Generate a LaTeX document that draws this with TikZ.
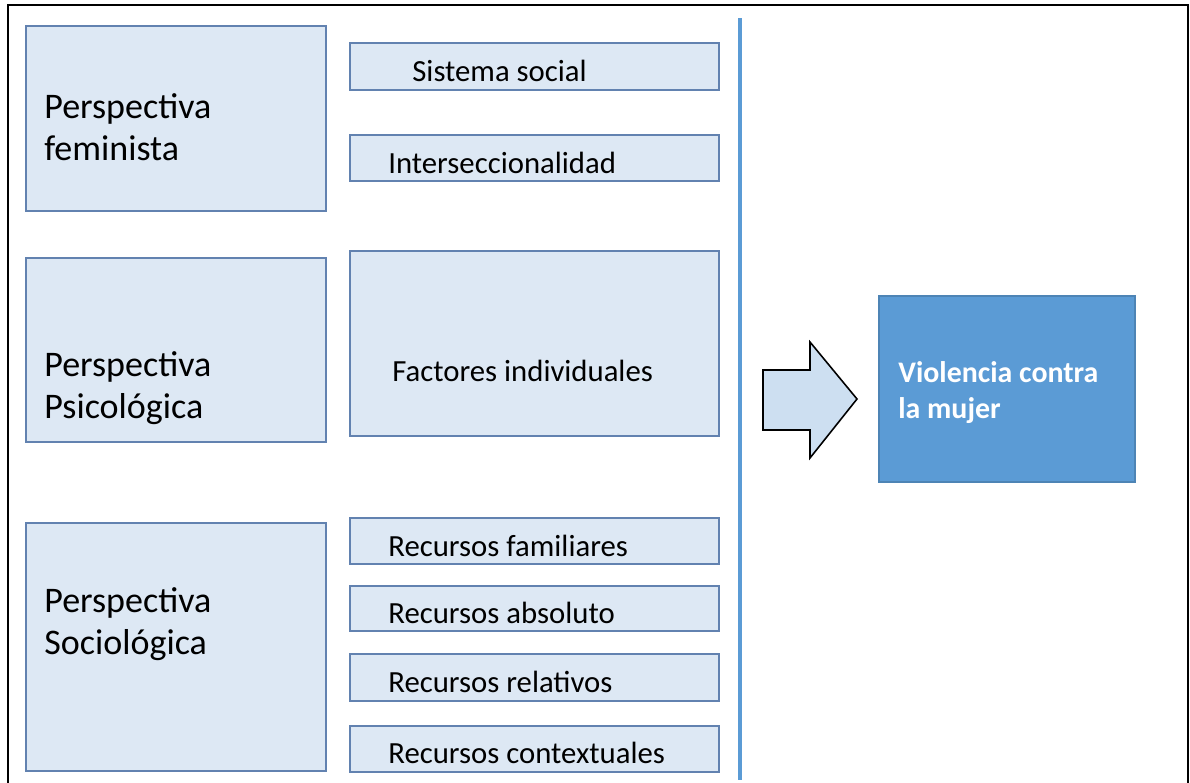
\documentclass[tikz,border=0pt]{standalone}
\usepackage{fontspec}
\setmainfont{Carlito}
\definecolor{boxfill}{RGB}{221,232,244}
\definecolor{boxline}{RGB}{98,130,176}
\definecolor{vioblue}{RGB}{91,155,213}
\definecolor{arrowfill}{RGB}{205,223,241}
\begin{document}
\begin{tikzpicture}[
    x=0.02cm, y=-0.02cm,
    box/.style 2 args={draw=boxline, fill=boxfill, line width=1pt, anchor=north west,
        inner sep=0pt, minimum width=#1*0.02cm, minimum height=#2*0.02cm},
    biglabel/.style={anchor=west, align=left, inner sep=0pt, font=\fontsize{20.5}{23.9}\selectfont},
    smalllabel/.style={anchor=base west, inner sep=0pt, font=\fontsize{17.5}{21}\selectfont}
]
\useasboundingbox (0,0) rectangle (1190,782);
\draw[line width=0.04cm] (8,790) -- (8,5) -- (1188,5) -- (1188,790);

% perspectivas
\node[box={300}{185}] (fem) at (25,25) {};
\node[box={300}{184}] (psi) at (25,257) {};
\node[box={300}{248}] (soc) at (25,522) {};
\node[biglabel] (femtxt) at (44,127) {Perspectiva\\feminista};
\node[biglabel] (psitxt) at (44,388) {Perspectiva\\Psicológica};
\node[biglabel] (soctxt) at (44,624) {Perspectiva\\Sociológica};

% factores
\node[box={369}{47}] (sis) at (349,42) {};
\node[box={369}{46}] (int) at (349,134) {};
\node[box={369}{185}] (fac) at (349,250) {};
\node[box={369}{46}] (fam) at (349,517) {};
\node[box={369}{45}] (abs) at (349,585) {};
\node[box={369}{47}] (rel) at (349,653) {};
\node[box={369}{46}] (ctx) at (349,725) {};
\node[smalllabel] (sistxt) at (412,81) {Sistema social};
\node[smalllabel] (inttxt) at (388,173) {Interseccionalidad};
\node[smalllabel] (factxt) at (392,381) {Factores individuales};
\node[smalllabel] (famtxt) at (388,556) {Recursos familiares};
\node[smalllabel] (abstxt) at (388,623) {Recursos absoluto};
\node[smalllabel] (reltxt) at (388,692) {Recursos relativos};
\node[smalllabel] (ctxtxt) at (388,763) {Recursos contextuales};

\draw[vioblue, line width=0.09cm] (740,18) -- (740,780);

% resultado
\draw[fill=arrowfill, line width=0.9pt, line join=miter]
    (763,370) -- (810,370) -- (810,342) -- (857,399) -- (810,458) -- (810,430) -- (763,430) -- cycle;
\node[box={256}{186}, fill=vioblue, draw=vioblue!85!black] (vio) at (878,295) {};
\node[anchor=west, align=left, inner sep=0pt, text=white,
    font=\fontsize{17}{20.5}\selectfont\bfseries] (viotxt) at (898,393) {Violencia contra\\la mujer};
\end{tikzpicture}
\end{document}
